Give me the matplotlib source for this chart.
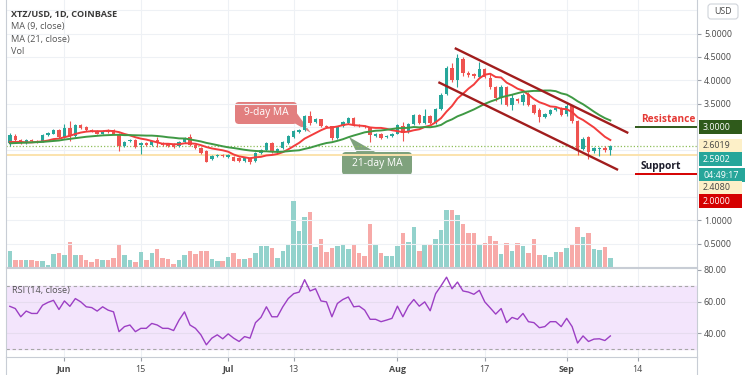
import matplotlib
matplotlib.use("Agg")
import matplotlib.pyplot as plt
import matplotlib.dates as mdates
import matplotlib.transforms as mtransforms
from matplotlib.patches import FancyBboxPatch, Polygon, Rectangle
from matplotlib.lines import Line2D
import numpy as np
import pandas as pd

plt.rcParams['font.family'] = ['Open Sans', 'DejaVu Sans']

# ---- data (XTZ/USD daily) ----
dates = pd.date_range('2020-05-22', '2020-09-09', freq='D')

opens = [2.65, 2.81, 2.72, 2.65, 2.72, 2.70, 2.69, 2.82, 2.86, 2.93,
         2.79, 2.97, 2.81, 3.04, 2.99, 2.93, 2.92, 2.86, 2.92, 2.93,
         2.86, 2.60, 2.69, 2.72, 2.61, 2.65, 2.62, 2.72, 2.65, 2.63,
         2.62, 2.60, 2.68, 2.78, 2.61, 2.56, 2.49, 2.31, 2.38, 2.40,
         2.36, 2.36, 2.33, 2.27, 2.34, 2.27, 2.44, 2.51, 2.65, 2.46,
         2.54, 2.66, 2.79, 2.89, 2.94, 3.24, 3.10, 3.16, 3.02, 3.01,
         2.76, 3.02, 3.09, 3.19, 3.04, 3.02, 2.97, 2.80, 2.85, 2.78,
         2.81, 2.86, 3.02, 2.90, 3.06, 3.26, 3.09, 3.24, 3.09, 3.38,
         3.70, 4.26, 4.00, 4.45, 4.15, 4.13, 4.08, 4.24, 4.05, 3.86,
         3.62, 3.86, 3.46, 3.60, 3.53, 3.70, 3.47, 3.36, 3.22, 3.28,
         3.37, 3.40, 3.27, 3.44, 3.13, 2.53, 2.78, 2.48, 2.53, 2.56,
         2.50]
highs = [2.88, 2.85, 2.74, 2.74, 2.75, 2.73, 2.84, 2.89, 2.95, 2.95,
         3.06, 3.13, 3.06, 3.07, 3.02, 2.95, 2.94, 2.94, 2.95, 2.95,
         2.88, 2.70, 2.74, 2.74, 2.67, 2.67, 2.71, 2.79, 2.67, 2.66,
         2.65, 2.70, 2.79, 2.86, 2.63, 2.57, 2.50, 2.40, 2.43, 2.42,
         2.42, 2.38, 2.35, 2.35, 2.36, 2.46, 2.53, 2.68, 2.67, 2.54,
         2.70, 2.83, 2.93, 2.96, 3.26, 3.34, 3.20, 3.18, 3.05, 3.03,
         3.03, 3.13, 3.21, 3.21, 3.06, 3.04, 2.99, 2.87, 2.87, 2.82,
         2.87, 3.06, 3.11, 3.08, 3.28, 3.28, 3.38, 3.26, 3.40, 3.72,
         4.30, 4.36, 4.56, 4.50, 4.20, 4.16, 4.40, 4.27, 4.15, 3.88,
         3.90, 3.88, 3.70, 3.63, 3.72, 3.75, 3.49, 3.40, 3.30, 3.39,
         3.42, 3.43, 3.51, 3.47, 3.15, 2.78, 2.80, 2.57, 2.58, 2.60,
         2.61]
lows = [2.59, 2.70, 2.63, 2.63, 2.67, 2.66, 2.68, 2.80, 2.84, 2.77,
        2.77, 2.69, 2.79, 2.95, 2.91, 2.89, 2.84, 2.85, 2.88, 2.84,
        2.49, 2.58, 2.67, 2.56, 2.42, 2.60, 2.60, 2.57, 2.59, 2.57,
        2.56, 2.58, 2.66, 2.59, 2.52, 2.43, 2.24, 2.29, 2.36, 2.35,
        2.34, 2.27, 2.25, 2.25, 2.21, 2.26, 2.42, 2.49, 2.44, 2.44,
        2.52, 2.64, 2.77, 2.87, 2.92, 3.04, 3.08, 2.99, 2.97, 2.72,
        2.74, 3.00, 3.07, 3.02, 3.00, 2.98, 2.68, 2.78, 2.75, 2.76,
        2.79, 2.84, 2.69, 2.88, 3.04, 3.06, 3.07, 3.06, 3.07, 3.36,
        3.68, 3.97, 3.86, 4.10, 4.08, 4.05, 4.05, 4.05, 3.82, 3.55,
        3.50, 3.45, 3.36, 3.52, 3.48, 3.45, 3.27, 3.11, 3.20, 3.26,
        3.35, 3.24, 3.24, 3.08, 2.41, 2.50, 2.31, 2.45, 2.38, 2.47,
        2.41]
closes = [2.83, 2.72, 2.65, 2.72, 2.69, 2.69, 2.82, 2.87, 2.93, 2.79,
          2.97, 2.81, 3.04, 2.97, 2.93, 2.91, 2.86, 2.92, 2.90, 2.86,
          2.60, 2.68, 2.72, 2.58, 2.65, 2.62, 2.69, 2.65, 2.61, 2.60,
          2.58, 2.68, 2.77, 2.61, 2.54, 2.45, 2.26, 2.38, 2.41, 2.37,
          2.40, 2.28, 2.27, 2.33, 2.26, 2.44, 2.51, 2.65, 2.48, 2.52,
          2.685, 2.81, 2.91, 2.94, 3.24, 3.09, 3.17, 3.01, 3.00, 2.76,
          3.01, 3.11, 3.19, 3.04, 3.02, 3.00, 2.82, 2.85, 2.77, 2.80,
          2.85, 3.04, 2.88, 3.06, 3.26, 3.08, 3.24, 3.08, 3.38, 3.69,
          4.26, 4.00, 4.47, 4.15, 4.11, 4.09, 4.25, 4.08, 3.86, 3.63,
          3.86, 3.48, 3.61, 3.55, 3.69, 3.47, 3.29, 3.22, 3.27, 3.37,
          3.40, 3.26, 3.44, 3.13, 2.52, 2.75, 2.46, 2.54, 2.54, 2.50,
          2.59]
volumes = [15.7, 6.7, 7.3, 6.7, 7.3, 5.7, 6.3, 2.3, 13, 13.7,
           12.3, 25, 11.7, 11.7, 6.7, 4.7, 7.7, 7, 7, 9.3,
           23, 11.7, 7.3, 5, 14.7, 7.3, 14, 18, 9, 8.3,
           3.3, 7, 12.3, 16, 13, 16, 16, 8.3, 6.3, 6.3,
           9.7, 14.3, 8, 8, 9.3, 13.7, 21.3, 21.3, 19, 9,
           16.3, 21.7, 65.7, 35.7, 49.7, 54.7, 19.7, 28.3, 15, 19,
           20.7, 21.7, 18, 22.7, 14.3, 11, 43.3, 22, 14.3, 11,
           11, 21, 34.3, 25.3, 40, 16, 22, 22, 28, 37,
           57, 57, 52, 43, 34, 34, 22, 24, 31, 26,
           13, 24, 16, 24, 21, 14, 28, 12, 12, 10,
           15, 15, 19, 22, 40, 30, 34, 18, 17, 20,
           9]
ma9 = [2.68, 2.68, 2.68, 2.67, 2.67, 2.68, 2.69, 2.71, 2.74, 2.75,
       2.78, 2.81, 2.85, 2.88, 2.90, 2.91, 2.91, 2.91, 2.92, 2.91,
       2.89, 2.85, 2.82, 2.78, 2.75, 2.73, 2.70, 2.67, 2.64, 2.64,
       2.63, 2.63, 2.65, 2.65, 2.64, 2.61, 2.57, 2.54, 2.52, 2.50,
       2.47, 2.41, 2.37, 2.35, 2.33, 2.35, 2.36, 2.39, 2.40, 2.42,
       2.46, 2.52, 2.59, 2.66, 2.75, 2.81, 2.87, 2.93, 2.98, 2.99,
       3.01, 3.04, 3.06, 3.04, 3.03, 3.02, 2.99, 2.98, 2.98, 2.96,
       2.93, 2.91, 2.89, 2.90, 2.93, 2.95, 3.00, 3.03, 3.10, 3.19,
       3.33, 3.45, 3.61, 3.71, 3.82, 3.91, 4.04, 4.12, 4.14, 4.07,
       4.06, 3.95, 3.89, 3.82, 3.78, 3.69, 3.60, 3.53, 3.49, 3.44,
       3.43, 3.39, 3.38, 3.32, 3.21, 3.15, 3.07, 2.99, 2.89, 2.79,
       2.72]
ma21 = [2.65, 2.655, 2.66, 2.665, 2.67, 2.675, 2.68, 2.69, 2.70, 2.71,
        2.73, 2.745, 2.76, 2.775, 2.79, 2.80, 2.81, 2.82, 2.825, 2.83,
        2.832, 2.825, 2.825, 2.822, 2.819, 2.815, 2.815, 2.807, 2.795, 2.779,
        2.769, 2.755, 2.753, 2.733, 2.712, 2.690, 2.659, 2.636, 2.611, 2.586,
        2.564, 2.549, 2.530, 2.511, 2.496, 2.486, 2.480, 2.479, 2.470, 2.466,
        2.470, 2.481, 2.492, 2.500, 2.530, 2.556, 2.591, 2.626, 2.656, 2.673,
        2.703, 2.737, 2.780, 2.817, 2.850, 2.885, 2.903, 2.919, 2.925, 2.940,
        2.956, 2.973, 2.976, 2.983, 2.999, 2.991, 2.998, 2.994, 3.011, 3.044,
        3.116, 3.163, 3.228, 3.273, 3.324, 3.375, 3.435, 3.495, 3.543, 3.584,
        3.634, 3.664, 3.691, 3.723, 3.753, 3.763, 3.773, 3.772, 3.781, 3.781,
        3.767, 3.720, 3.693, 3.629, 3.551, 3.487, 3.409, 3.328, 3.254, 3.190,
        3.140]
rsi = [57.0, 55.6, 50.4, 54.0, 52.5, 52.5, 57.7, 59.5, 60.8, 55.0,
       60.4, 57.0, 61.9, 59.8, 56.7, 56.2, 54.0, 56.7, 54.6, 53.5,
       41.0, 44.2, 45.2, 41.0, 43.1, 43.1, 46.2, 45.2, 43.1, 43.1,
       41.7, 48.3, 53.5, 45.2, 43.1, 39.0, 32.7, 36.9, 39.0, 36.5,
       39.6, 36.9, 34.8, 37.9, 36.9, 46.7, 50.0, 56.7, 50.4, 50.4,
       56.7, 61.9, 65.0, 66.0, 73.8, 66.7, 68.1, 60.4, 59.8, 50.4,
       58.8, 61.3, 62.9, 56.7, 57.1, 54.6, 48.8, 48.8, 47.3, 48.3,
       49.4, 57.1, 50.4, 57.1, 61.3, 57.1, 59.8, 54.2, 65.0, 70.0,
       75.4, 68.1, 72.3, 66.7, 66.0, 64.6, 67.1, 59.8, 56.0, 52.1,
       55.6, 46.7, 50.0, 48.8, 52.5, 47.3, 46.7, 43.5, 44.2, 47.3,
       47.3, 44.2, 49.4, 44.2, 33.8, 38.3, 34.8, 36.3, 36.5, 35.4,
       38.3]

# drawn trend channel and levels
upper_dates = ['2020-08-11 12:00', '2020-09-12 07:00']
upper_prices = [4.69, 2.87]
lower_dates = ['2020-08-08 12:00', '2020-09-10 10:00']
lower_prices = [3.96, 2.08]
resistance = 3.0
support = 2.0
level_start = '2020-09-13 12:00'
high_line = 2.6019
low_line = 2.408

tick_dates = ['2020-06-01', '2020-06-15', '2020-07-01', '2020-07-13',
              '2020-08-01', '2020-08-17', '2020-09-01', '2020-09-14']
tick_labels = ['Jun', '15', 'Jul', '13', 'Aug', '17', 'Sep', '14']
price_ticks = [0.5, 1.0, 1.5, 2.0, 2.5, 3.0, 3.5, 4.0, 4.5, 5.0, 5.5]
shown_price = [0.5, 1.0, 3.5, 4.0, 4.5, 5.0]
tag_texts = ['3.0000', '2.6019', '2.5902', '04:49:17', '2.4080', '2.0000']

UP = '#26a69a'
DOWN = '#ef5350'
GRID = '#eef1f5'
SPINE = '#c8cdd5'
TXT = '#4a4a4a'

fig = plt.figure(figsize=(7.5, 3.75), dpi=100)
fig.patch.set_facecolor('white')
px = mtransforms.Affine2D().scale(1 / 750, -1 / 375).translate(0, 1) + fig.transFigure

ax = fig.add_axes([6 / 750, 108 / 375, 691 / 750, 267 / 375])
ax_vol = ax.twinx()
ax_rsi = fig.add_axes([6 / 750, 18 / 375, 691 / 750, 89 / 375])

x = mdates.date2num(dates.to_pydatetime())
o = np.array(opens)
h = np.array(highs)
l = np.array(lows)
c = np.array(closes)
up = c >= o
col = np.where(up, UP, DOWN)
vcol = np.where(up, '#93d2cc', '#f7aaa8')

x_left = x[0] - 0.7
x_right = mdates.date2num(pd.Timestamp('2020-09-24 21:00'))
xt = mdates.date2num(pd.to_datetime(tick_dates).to_pydatetime())

# volume (own hidden scale)
ax_vol.bar(x, volumes, width=0.82, color=vcol, linewidth=0)
ax_vol.set_ylim(0, 267)
ax_vol.axis('off')
ax.set_zorder(ax_vol.get_zorder() + 1)
ax.patch.set_visible(False)

# grid
for t in xt:
    ax_vol.axvline(t, color=GRID, lw=0.8, zorder=0)
    ax_rsi.axvline(t, color=GRID, lw=0.8, zorder=0)
for p in price_ticks:
    ax.axhline(p, color=GRID, lw=0.8, zorder=0)

# candles
ax.vlines(x, l, h, colors=col, lw=0.8, zorder=3)
body = np.maximum(np.abs(c - o), 0.012)
ax.bar(x, body, bottom=np.minimum(o, c), width=0.62, color=col, linewidth=0, zorder=4)

# moving averages
ax.plot(x, ma9, color='#f23d3d', lw=1.4, zorder=5)
ax.plot(x, ma21, color='#3f9944', lw=1.4, zorder=5)

# price lines
ax.axhline(high_line, color='#8fbf5a', lw=0.9, ls=(0, (1, 1.6)), zorder=2)
ax.axhline(low_line, color='#fbe3ad', lw=1.4, zorder=2)

# channel
ax.plot(mdates.date2num(pd.to_datetime(upper_dates).to_pydatetime()), upper_prices,
        color='#a11d1d', lw=1.7, zorder=6, solid_capstyle='butt')
ax.plot(mdates.date2num(pd.to_datetime(lower_dates).to_pydatetime()), lower_prices,
        color='#a11d1d', lw=1.7, zorder=6, solid_capstyle='butt')

# resistance / support
xs = mdates.date2num(pd.Timestamp(level_start))
ax.hlines(resistance, xs, x_right, color='#2f5a1b', lw=1.4, zorder=6)
ax.hlines(support, xs, x_right, color='#d50000', lw=1.4, zorder=6)
fig.text(641, 120, 'Resistance', transform=px, color='#e53935', fontsize=7.3,
         fontweight='bold', va='center', ha='left')
fig.text(641, 166, 'Support', transform=px, color='#1c1c2a', fontsize=7.3,
         fontweight='bold', va='center', ha='left')

ax.set_xlim(x_left, x_right)
ax.set_ylim(0, 5.72)
ax.yaxis.tick_right()
ax.set_yticks(shown_price)
ax.set_yticklabels(['%.4f' % v for v in shown_price])
ax.tick_params(axis='y', labelsize=6.4, colors='#9aa0a8', labelcolor=TXT, length=3, width=0.8, pad=2)
ax.set_xticks(xt)
ax.tick_params(axis='x', length=0, labelbottom=False)
ax.spines['top'].set_visible(False)
for s in ['left', 'right', 'bottom']:
    ax.spines[s].set_color(SPINE)

# RSI panel
ax_rsi.axhspan(30, 70, color='#f3e5fc', zorder=0)
ax_rsi.axhline(70, color='#a7a7a7', lw=0.8, ls=(0, (3, 2.5)), zorder=1)
ax_rsi.axhline(30, color='#a7a7a7', lw=0.8, ls=(0, (3, 2.5)), zorder=1)
for v in [40, 60]:
    ax_rsi.axhline(v, color='#e6dcef', lw=0.8, zorder=1)
ax_rsi.plot(x, rsi, color='#9c3fc4', lw=1.0, zorder=3)
ax_rsi.set_xlim(x_left, x_right)
ax_rsi.set_ylim(25.0, 81.2)
ax_rsi.yaxis.tick_right()
ax_rsi.set_yticks([40, 60, 80])
ax_rsi.set_yticklabels(['40.00', '60.00', '80.00'])
ax_rsi.tick_params(axis='y', labelsize=6.4, colors='#9aa0a8', labelcolor=TXT, length=3, width=0.8, pad=2)
ax_rsi.set_xticks(xt)
ax_rsi.set_xticklabels(tick_labels)
ax_rsi.tick_params(axis='x', labelsize=6.4, colors='#9aa0a8', labelcolor=TXT, length=3, width=0.8, pad=3)
for lab in ax_rsi.get_xticklabels():
    if lab.get_text().isalpha():
        lab.set_fontweight('bold')
for s in ['left', 'right', 'bottom', 'top']:
    ax_rsi.spines[s].set_color(SPINE)

# frame lines through the date strip
fig.add_artist(Line2D([697, 697], [357, 375], transform=px, color=SPINE, lw=0.8))
fig.add_artist(Line2D([6, 6], [357, 375], transform=px, color=SPINE, lw=0.8))

# header texts
fig.text(11, 15, 'XTZ/USD, 1D, COINBASE', transform=px, fontsize=6.6, fontweight='bold',
         color='#3a3a3a', va='center')
fig.text(11, 27, 'MA (9, close)', transform=px, fontsize=6.6, color='#555555', va='center')
fig.text(11, 39.5, 'MA (21, close)', transform=px, fontsize=6.6, color='#555555', va='center')
fig.text(11, 51.5, 'Vol', transform=px, fontsize=6.6, color='#555555', va='center')
fig.text(12, 290, 'RSI (14, close)', transform=px, fontsize=6.6, color='#555555', va='center')

# USD badge
fig.add_artist(FancyBboxPatch((708, 4), 30, 15, boxstyle='round,pad=0,rounding_size=3',
                              transform=px, facecolor='white', edgecolor='#d0d4da', lw=0.8))
fig.text(723, 11.5, 'USD', transform=px, fontsize=6.4, color=TXT, ha='center', va='center')

# price tags on the right scale
tag_y = [127, 146, 159, 175, 188, 201]
tag_bg = ['#2f5a1b', '#fdf0c8', '#26a69a', '#26a69a', '#fdf0c8', '#d50000']
tag_fg = ['white', '#444444', 'white', 'white', '#444444', 'white']
tag_w = [43, 43, 43, 46, 43, 43]
for txt, yy, bg, fg, w in zip(tag_texts, tag_y, tag_bg, tag_fg, tag_w):
    fig.add_artist(Rectangle((699, yy - 7), w, 14, transform=px, facecolor=bg, edgecolor='none'))
    fig.text(703, yy, txt, transform=px, fontsize=6.4, color=fg, va='center', ha='left')

# callouts
box9 = '#e27f7f'
fig.add_artist(Polygon([(286, 118), (296, 112), (311, 133)], closed=True, transform=px,
                       facecolor=box9, edgecolor='none'))
fig.add_artist(FancyBboxPatch((235, 102), 62, 22, boxstyle='round,pad=0,rounding_size=4',
                              transform=px, facecolor=box9, edgecolor='none'))
fig.text(266, 113, '9-day MA', transform=px, fontsize=7.4, color='white', ha='center', va='center')

box21 = '#7fa27d'
fig.add_artist(Polygon([(349, 137), (357, 153), (377, 153)], closed=True, transform=px,
                       facecolor=box21, edgecolor='none'))
fig.add_artist(FancyBboxPatch((342, 152), 70, 23, boxstyle='round,pad=0,rounding_size=4',
                              transform=px, facecolor=box21, edgecolor='none'))
fig.text(377, 163.5, '21-day MA', transform=px, fontsize=7.4, color='white', ha='center', va='center')

fig.savefig('out.png', dpi=100)
